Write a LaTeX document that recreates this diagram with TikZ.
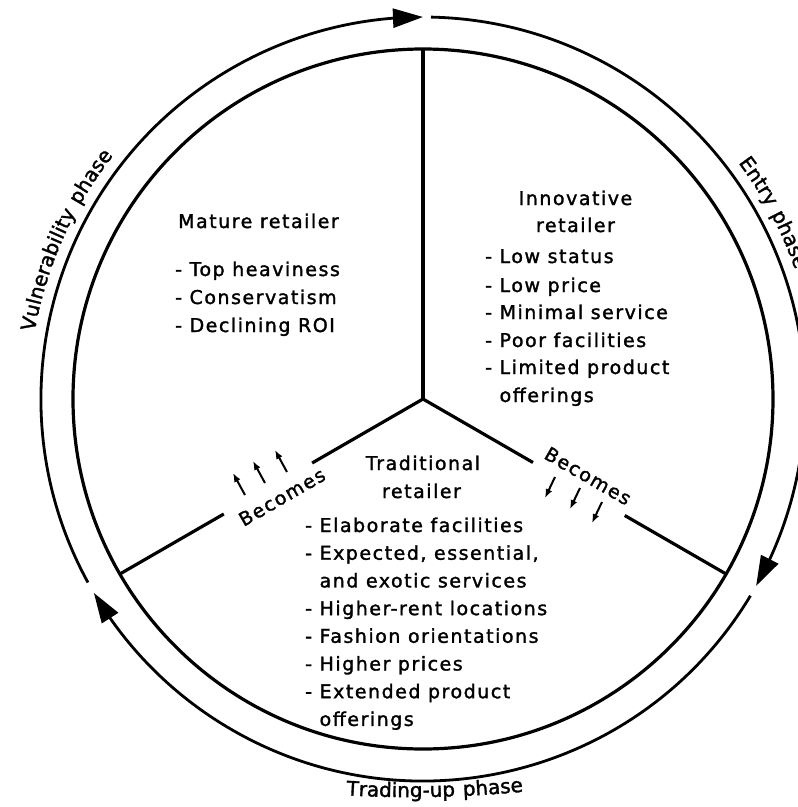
\documentclass[tikz,border=0pt]{standalone}
\usepackage{fontspec}
\setmainfont[LetterSpace=8,FakeBold=1.6]{DejaVu Sans}
\usetikzlibrary{arrows.meta,bending,decorations.text}
\newcommand\phasefont{\fontsize{19}{23}\selectfont}
\newcommand\ringfont{\fontsize{20}{24}\selectfont}
\begin{document}
\begin{tikzpicture}[x=1pt,y=1pt,
  ring/.style={line width=3.2pt},
  spoke/.style={line width=3.2pt},
  phasearrow/.style={line width=2.8pt,-{Triangle[length=30pt,width=19pt]}},
  smallarrow/.style={line width=2pt,-{Latex[length=9pt,width=7pt]}},
  lbl/.style={font=\phasefont, inner sep=0pt},
  item/.style={lbl, anchor=base west},
  head/.style={lbl, anchor=base},
  phasetext/.style={decorate, decoration={text along path, text align=center, text={#1}}}
]
\useasboundingbox (-423,-408) rectangle (375,399);
\fill[white] (-423,-408) rectangle (375,399);
% inner circle and spokes
\coordinate (O) at (0,0);
\draw[ring] (O) circle (350);
\coordinate (T) at (90:350);
\coordinate (L1) at (210:128);
\coordinate (L2) at (210:230);
\coordinate (L3) at (210:350);
\coordinate (R1) at (-30:127);
\coordinate (R2) at (-30:233);
\coordinate (R3) at (-30:350);
\draw[spoke] (O) -- (T);
\draw[spoke] (O) -- (L1);
\draw[spoke] (L2) -- (L3);
\draw[spoke] (O) -- (R1);
\draw[spoke] (R2) -- (R3);
% outer cycle arrows
\coordinate (A1) at (88.8:382);
\coordinate (A2) at (-31:382);
\coordinate (A3) at (-151.3:382);
\draw[phasearrow] (A1) arc[start angle=88.8, end angle=-29.3, radius=382];
\draw[phasearrow] (A2) arc[start angle=-31, end angle=-149.5, radius=382];
\draw[phasearrow] (A3) arc[start angle=208.7, end angle=90, radius=382];
% phase labels
\path[phasetext={|\ringfont|Vulnerability phase}] (176:394) arc[start angle=176, end angle=136, radius=394];
\path[phasetext={|\ringfont|Entry phase}] (48:394) arc[start angle=48, end angle=8, radius=394];
\path[phasetext={|\ringfont|Trading-up phase}] (-12.3,756.8) ++(265.2:1155) arc[start angle=265.2, end angle=277.2, radius=1155];
% Mature retailer
\node[head] (mat) at (-164.5,171) {Mature retailer};
\node[item] (m1) at (-248,123) {- Top heaviness};
\node[item] (m2) at (-248,95) {- Conservatism};
\node[item] (m3) at (-248,67) {- Declining ROI};
% Innovative retailer
\node[head] (inn) at (152.5,194) {Innovative};
\node[head] (innb) at (152.5,167) {retailer};
\node[item] (i1) at (62,136) {- Low status};
\node[item] (i2) at (62,107) {- Low price};
\node[item] (i3) at (62,80) {- Minimal service};
\node[item] (i4) at (62,52) {- Poor facilities};
\node[item] (i5) at (62,25) {- Limited product};
\node[item] (i6) at (62,-3) {\phantom{- }offerings};
% Traditional retailer
\node[head] (tra) at (0,-71) {Traditional};
\node[head] (trab) at (-1.5,-99) {retailer};
\node[item] (t1) at (-118,-133) {- Elaborate facilities};
\node[item] (t2) at (-118,-160.7) {- Expected, essential,};
\node[item] (t3) at (-118,-188.4) {\phantom{- }and exotic services};
\node[item] (t4) at (-118,-216.1) {- Higher-rent locations};
\node[item] (t5) at (-118,-243.8) {- Fashion orientations};
\node[item] (t6) at (-118,-271.5) {- Higher prices};
\node[item] (t7) at (-118,-299.2) {- Extended product};
\node[item] (t8) at (-118,-326.9) {\phantom{- }offerings};
% Becomes labels
\node[lbl, rotate=30] (bl) at (-141,-98) {Becomes};
\node[lbl, rotate=-30] (br) at (165,-77) {Becomes};
% small arrows
\coordinate (la1) at (-178,-96); \coordinate (lh1) at (-190,-74);
\coordinate (la2) at (-158,-84); \coordinate (lh2) at (-170,-62);
\coordinate (la3) at (-136,-73); \coordinate (lh3) at (-148,-51);
\draw[smallarrow] (la1) -- (lh1);
\draw[smallarrow] (la2) -- (lh2);
\draw[smallarrow] (la3) -- (lh3);
\coordinate (ra1) at (132,-78); \coordinate (rh1) at (122,-99);
\coordinate (ra2) at (157,-89); \coordinate (rh2) at (147,-110);
\coordinate (ra3) at (179,-103); \coordinate (rh3) at (169,-124);
\draw[smallarrow] (ra1) -- (rh1);
\draw[smallarrow] (ra2) -- (rh2);
\draw[smallarrow] (ra3) -- (rh3);
\end{tikzpicture}
\end{document}
